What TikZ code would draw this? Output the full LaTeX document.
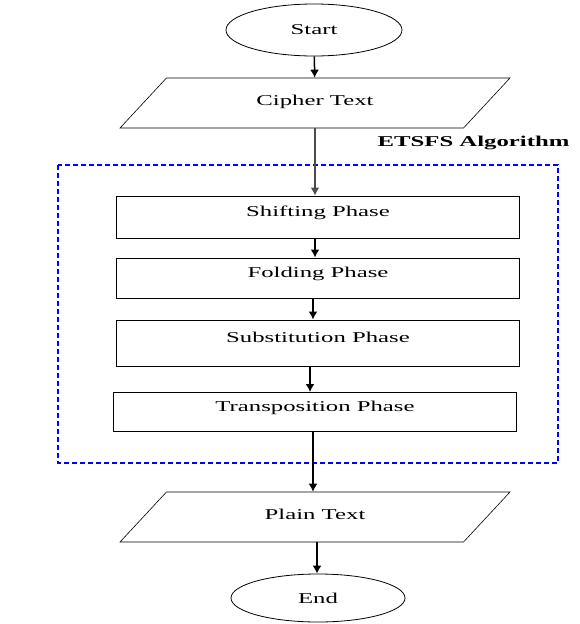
\documentclass[tikz,border=0pt]{standalone}
\usepackage{fontspec}
\setmainfont{Liberation Serif}[FakeStretch=1.65]
\usepackage{tikz}
\usetikzlibrary{positioning}
\usetikzlibrary{shapes.geometric}
\usetikzlibrary{arrows.meta}

\begin{document}
\begin{tikzpicture}[x=1pt, y=-1pt, font=\fontsize{15}{18}\selectfont,
  terminal/.style={draw, ellipse, line width=0.8pt, minimum width=176, minimum height=52, inner sep=0},
  io/.style={draw, trapezium, trapezium left angle=26, trapezium right angle=154,
    trapezium stretches body, minimum width=390, minimum height=50, text height=10, text depth=6, line width=0.6pt},
  phase/.style={draw, line width=1pt, minimum width=403, text height=10, text depth=12},
  flow/.style={-{Latex[length=8pt,width=9pt]}, line width=1.5pt}]
\useasboundingbox (0,0) rectangle (579,624);
% Algorithm frame
\draw [blue, line width=1.2pt, dash pattern=on 5pt off 3pt] (58,165) rectangle (558,463);
\node [font=\fontsize{15}{18}\selectfont\bfseries, anchor=east] (etsfs) at (573,143) {ETSFS Algorithm};
% Terminals and data
\node [terminal] (start) at (314,30) {Start};
\node [io] (cipher) at (315,103) {Cipher Text};
\node [io] (plain) at (315,517) {Plain Text};
\node [terminal, minimum width=174, minimum height=48] (end) at (318,598) {End};
% Phases
\node [phase, minimum height=42] (shift) at (318,217) {Shifting Phase};
\node [phase, minimum height=40] (fold) at (318,278) {Folding Phase};
\node [phase, minimum height=46] (subst) at (318,343) {Substitution Phase};
\node [phase, minimum height=39] (trans) at (315,412) {Transposition Phase};
% Arrows
\draw [flow] (start) -- (cipher);
\draw [flow, line width=2pt, black!70] (cipher.south) -- (cipher.south |- shift.north);
\draw [flow] ([xshift=-3]shift.south) -- ([xshift=-3]shift.south |- fold.north);
\draw [flow] ([xshift=-5]fold.south) -- ([xshift=-5]fold.south |- subst.north);
\draw [flow] ([xshift=-8]subst.south) -- ([xshift=-8]subst.south |- trans.north);
\draw [flow] ([xshift=-2]trans.south) -- ([xshift=-2]trans.south |- plain.north);
\draw [flow] ([xshift=2]plain.south) -- ([xshift=2]plain.south |- end.north);
\end{tikzpicture}
\end{document}
